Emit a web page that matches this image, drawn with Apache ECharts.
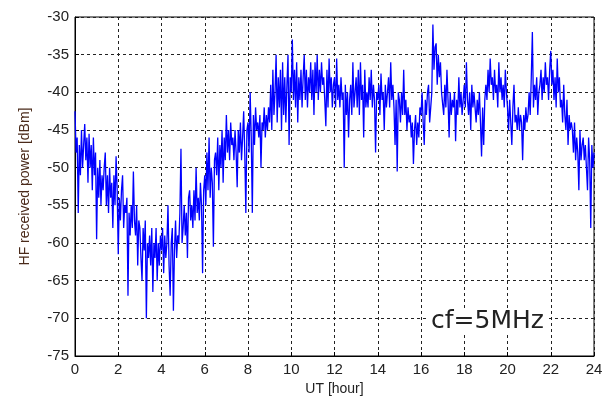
<!DOCTYPE html>
<html>
<head>
<meta charset="utf-8">
<script src="https://cdn.jsdelivr.net/npm/echarts@6/dist/echarts.min.js"></script>
<style>
  html, body { margin: 0; padding: 0; background: #fff; }
  #chart { width: 613px; height: 401px; }
</style>
</head>
<body>
<div id="chart"></div>
<script>
// sample spacing in hours (one reading every 3 minutes)
var stepHours = 0.05

// received power [dBm], one row per hour
var power = [
  -42.5, -48, -46, -56, -47, -51, -45, -50, -47, -44.2, -49, -46, -52, -45.5, -50, -47, -53, -46, -51, -48,
  -59.5, -50, -54, -49, -55, -51, -53, -50, -48, -55, -51, -56, -50, -54, -52, -58, -51, -55, -48.5, -53,
  -61.5, -54, -57, -53, -51, -58, -55, -56, -54, -67, -56, -59, -55, -58, -50.5, -57, -59, -55, -63, -57,
  -58, -62, -65, -58, -61, -57, -70, -60, -62, -59, -63, -58, -66.5, -60, -62, -58, -65, -60, -63, -59,
  -61, -58, -64, -59, -62, -60, -55, -63, -67, -60, -58, -69, -61, -57, -62, -59, -60, -56, -47.5, -60,
  -58, -55, -59, -56, -62, -54, -53, -57, -55, -58, -53, -57, -50, -56, -54, -57, -52, -55, -64, -53,
  -51, -55, -48, -53, -46, -54, -50, -52, -60.5, -49, -48, -51, -46, -53, -47, -50, -45, -52, -46, -49,
  -43, -48, -45, -49, -44, -47, -46, -49, -45, -48, -52.6, -45, -48, -44, -49, -46, -42.5, -48, -56, -45,
  -44, -48, -40, -46, -56, -43, -47, -42, -45, -44, -46, -43, -50, -44, -45, -42, -46, -43, -45, -42,
  -44, -39, -45, -37, -43, -40, -35, -44, -38, -42, -37, -45, -36, -43, -38, -44, -39, -35, -47, -38,
  -40, -33, -41, -37, -42, -36, -44, -38, -41, -37, -42, -38, -35, -41, -37, -42, -38, -40, -36, -41,
  -37, -43, -36, -40, -35, -41, -37, -40, -36, -39, -38, -41, -44.5, -37, -42, -35.5, -40, -38, -42, -39,
  -38, -42, -35.5, -41, -39, -42, -38, -41, -40, -50, -39, -43, -40, -46, -41, -39, -43, -36, -42, -40,
  -38, -42, -37, -43, -36, -41, -39, -46, -37, -42, -40, -42, -38, -41, -37, -42, -39, -41, -48, -40,
  -41, -39, -43, -37.5, -41, -40, -45, -39, -42, -40, -38, -42, -36, -41, -39, -42, -47, -41, -50.5, -40,
  -41, -44, -40, -43, -37, -43, -41, -45, -42, -44, -43, -46, -44, -49.5, -45, -43, -47, -44, -46, -42,
  -43, -40, -44, -47, -41, -43, -40, -39, -44, -42, -40, -31, -37, -34, -33.5, -39, -35, -38, -36, -40,
  -40, -43, -39, -42, -37, -41, -46, -40, -43, -41, -42, -40, -46.5, -41, -43, -38, -42, -40, -43, -41,
  -39, -42, -36, -41, -43, -40, -45, -39, -42, -40, -42, -44, -41, -43, -40, -44, -48.5, -42, -47, -41,
  -39, -41, -37, -40, -35.5, -39, -38, -41, -37, -40, -39, -42, -36, -40, -38, -41, -39, -42, -37, -40,
  -42, -45, -41, -44, -47, -42, -39, -44, -43, -45, -42, -45, -43, -44, -49, -43, -45, -42, -44, -43,
  -40, -43, -38, -32, -42, -39, -41, -38, -43, -40, -39, -37, -41, -38, -40, -36, -39, -38, -41, -37,
  -34.5, -39, -37, -41, -38, -42, -35.5, -40, -38, -42, -41, -44, -39, -43, -45, -41, -47, -43, -45, -44,
  -45, -48, -44, -49, -46, -48, -53, -45, -49, -47, -46, -49, -47, -50, -53, -46, -49, -58, -47, -50,
  -48
]

var xTicks = [0, 2, 4, 6, 8, 10, 12, 14, 16, 18, 20, 22, 24]
var yTicks = [-75, -70, -65, -60, -55, -50, -45, -40, -35, -30]

var seriesData = power.map(function(v, i) {
  return [+(i * stepHours).toFixed(2), v]
})

var chart = echarts.init(document.getElementById('chart'))

var dashed = {
  show: true,
  lineStyle: { color: '#222', width: 1, type: [3, 3] }
}

chart.setOption({
  animation: false,
  backgroundColor: '#fff',
  textStyle: { fontFamily: 'Liberation Sans' },
  grid: {
    left: 75,
    right: 19,
    top: 17,
    bottom: 41,
    show: true,
    borderColor: '#000',
    borderWidth: 1
  },
  xAxis: {
    type: 'value',
    min: xTicks[0],
    max: xTicks[xTicks.length - 1],
    interval: 2,
    name: 'UT [hour]',
    nameLocation: 'middle',
    nameGap: 26,
    nameTextStyle: { fontSize: 14, color: '#222' },
    axisLine: { show: true, onZero: false, lineStyle: { color: '#000' } },
    axisTick: { show: true, inside: true, length: 4, lineStyle: { color: '#000' } },
    axisLabel: { fontSize: 15, color: '#222', margin: 6 },
    splitLine: dashed
  },
  yAxis: {
    type: 'value',
    min: yTicks[0],
    max: yTicks[yTicks.length - 1],
    interval: 5,
    name: 'HF received power [dBm]',
    nameLocation: 'middle',
    nameGap: 43,
    nameTextStyle: { fontSize: 14, color: '#4a2a1a' },
    axisLine: { show: true, lineStyle: { color: '#000' } },
    axisTick: { show: true, inside: true, length: 4, lineStyle: { color: '#000' } },
    axisLabel: { fontSize: 15, color: '#222', margin: 6 },
    splitLine: dashed
  },
  series: [{
    type: 'line',
    data: seriesData,
    showSymbol: false,
    symbol: 'none',
    lineStyle: { color: '#0000ff', width: 1.3 },
    z: 3
  }],
  graphic: [{
    type: 'text',
    left: 427,
    top: 309,
    z: 10,
    style: {
      text: 'cf=5MHz',
      font: '25px "DejaVu Sans"',
      fill: '#222',
      backgroundColor: '#fff',
      padding: [0, 4]
    }
  }]
})
</script>
</body>
</html>
